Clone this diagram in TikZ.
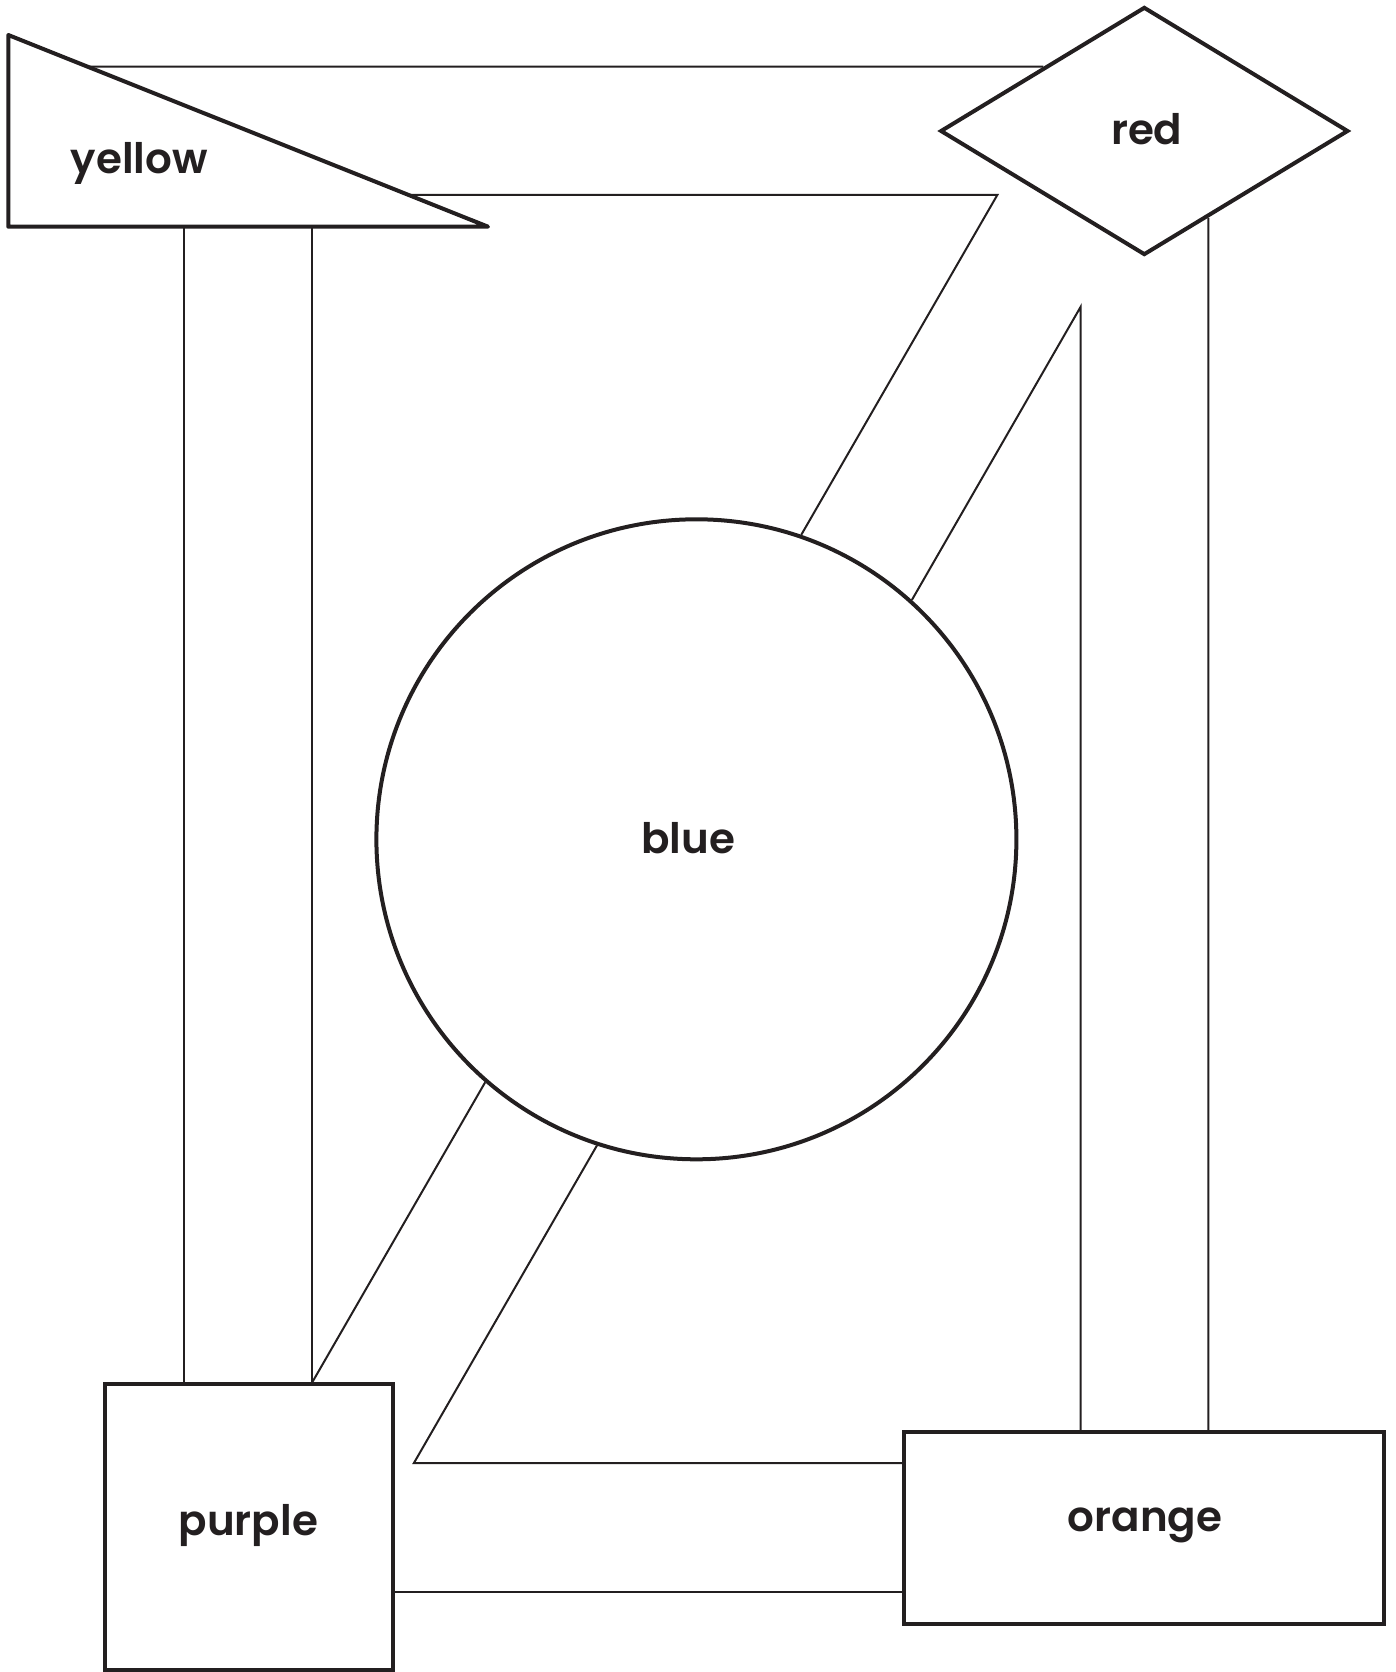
\documentclass[tikz,border=0pt]{standalone}
\usepackage{fontspec}
\setmainfont{Poppins}
\newfontfamily\labfont{Poppins SemiBold}
\usetikzlibrary{shapes.geometric}
\definecolor{ink}{HTML}{231F20}
\begin{document}
\begin{tikzpicture}[x=1pt,y=-1pt,
  shapeline/.style={draw=ink,line width=4pt},
  conn/.style={draw=ink,line width=2pt},
  lab/.style={text=ink,anchor=base,inner sep=0pt,font=\fontsize{42}{48}\labfont}]
\useasboundingbox (0,0) rectangle (1396,1672);
% helper coordinates
\coordinate (t1) at (8.3,35);
\coordinate (t2) at (8.3,226.7);
\coordinate (t3) at (488,226.7);
\coordinate (ha) at (0,66.7);  \coordinate (hb) at (1396,66.7);
\coordinate (ga) at (0,195);   \coordinate (gb) at (1396,195);
\coordinate (bend1) at (997.3,195);
\coordinate (bend2) at (1080.7,306.7);
\coordinate (bend3) at (413.8,1463.2);
\coordinate (va) at (1208.3,0); \coordinate (vb) at (1208.3,1672);
\coordinate (l1) at (184.3,226.7);
\coordinate (l2) at (312.3,226.7);
% nodes
\draw[shapeline,line join=round] (t1) -- (t2) -- (t3) -- cycle;
\node[shapeline,diamond,minimum width=408pt,minimum height=248pt,inner sep=0pt] (red) at (1144.3,131) {};
\node[shapeline,circle,minimum size=640pt,inner sep=0pt] (blue) at (696.4,839.3) {};
\node[shapeline,rectangle,minimum width=288pt,minimum height=286pt,inner sep=0pt] (purple) at (248.5,1527.2) {};
\node[shapeline,rectangle,minimum width=480pt,minimum height=192pt,inner sep=0pt] (orange) at (1144.4,1528.3) {};
% labels
\node[lab] (yellowtext) at (139.2,173.3) {yellow};
\node[lab] (redtext) at (1146.7,144.3) {red};
\node[lab] (bluetext) at (688.3,853.3) {blue};
\node[lab] (purpletext) at (248.3,1535) {purple};
\node[lab] (orangetext) at (1145,1531.7) {orange};
% connectors
\draw[conn] (intersection of t1--t3 and ha--hb) -- (intersection of red.west--red.north and ha--hb);
\draw[conn] (intersection of t1--t3 and ga--gb) -- (bend1) -- (blue.71.1);
\draw[conn] (bend2 |- orange.north) -- (bend2) -- (blue.48);
\draw[conn] (intersection of red.south--red.east and va--vb) -- (va |- orange.north);
\draw[conn] (l1) -- (l1 |- purple.north);
\draw[conn] (l2) -- (l2 |- purple.north);
\draw[conn] (l2 |- purple.north) -- (blue.229.2);
\draw[conn] (blue.252.1) -- (bend3) -- (bend3 -| orange.west);
\draw[conn] (purple.east |- 0,1592.2) -- (orange.west |- 0,1592.2);
\end{tikzpicture}
\end{document}
